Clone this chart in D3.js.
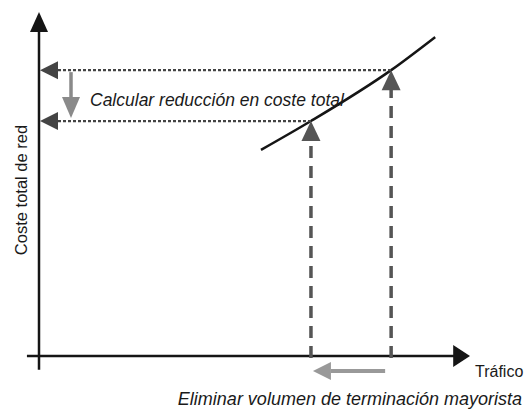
<!DOCTYPE html>
<html>
<head>
<meta charset="utf-8">
<script src="https://cdn.jsdelivr.net/npm/d3@7"></script>
<style>
  html, body { margin: 0; padding: 0; background: #fff; }
  svg { display: block; }
  text { font-family: "Liberation Sans", Arial, Helvetica, sans-serif; fill: #1a1a1a; }
</style>
</head>
<body>
<div id="chart"></div>
<script>
// ---- data (conceptual diagram, values in arbitrary units 0..100) ----
const costCurveTraffic = [51.5, 63.1, 81.7, 91.9];
const costCurveCost    = [59.9, 68.3, 83.1, 92.7];
const trafficLevels = [63.1, 81.7];   // without / with wholesale termination volume
const costLevels    = [68.3, 83.1];   // total network cost at those traffic levels
const xAxisTitle = "Tráfico";
const yAxisTitle = "Coste total de red";
const costNote = "Calcular reducción en coste total";
const trafficNote = "Eliminar volumen de terminación mayorista";

// ---- layout ----
const W = 526, H = 409;
const svg = d3.select("#chart").append("svg").attr("width", W).attr("height", H);

const x = d3.scaleLinear().domain([0, 100]).range([39, 470]);
const y = d3.scaleLinear().domain([0, 100]).range([356, 12]);

const AX = "#151515";
const DOT = "#444";
const DARK = "#555";
const LIGHT = "#999";

function tri(g, pts, fill) {
  g.append("path").attr("d", "M" + pts.map(p => p.join(",")).join("L") + "Z").attr("fill", fill);
}

// Y axis
svg.append("line").attr("x1", x(0)).attr("x2", x(0))
  .attr("y1", y(-4)).attr("y2", y(94.5))
  .attr("stroke", AX).attr("stroke-width", 2.5);
tri(svg, [[x(0), y(100)], [x(0) - 9, y(94.2)], [x(0) + 9, y(94.2)]], AX);

// X axis
svg.append("line").attr("x1", x(-2.8)).attr("x2", x(96.5))
  .attr("y1", y(0)).attr("y2", y(0))
  .attr("stroke", AX).attr("stroke-width", 2.5);
tri(svg, [[x(100), y(0)], [x(96.1), y(0) - 11], [x(96.1), y(0) + 11]], AX);

// Cost curve
const curvePts = costCurveTraffic.map((t, i) => [t, costCurveCost[i]]);
svg.append("path")
  .attr("d", d3.line().x(d => x(d[0])).y(d => y(d[1])).curve(d3.curveMonotoneX)(curvePts))
  .attr("fill", "none").attr("stroke", AX).attr("stroke-width", 2.5);

// Dotted horizontal reference lines with left arrowheads
costLevels.forEach((c, i) => {
  const yy = y(c);
  svg.append("line").attr("x1", x(0) + 19).attr("x2", x(trafficLevels[i]))
    .attr("y1", yy).attr("y2", yy)
    .attr("stroke", DOT).attr("stroke-width", 2.2).attr("stroke-dasharray", "3,2");
  tri(svg, [[x(0) + 1, yy], [x(0) + 19, yy - 9], [x(0) + 19, yy + 9]], DOT);
});

// Dashed vertical reference lines with up arrowheads
trafficLevels.forEach((t, i) => {
  const xx = x(t), tip = y(costLevels[i]);
  svg.append("line").attr("x1", xx).attr("x2", xx)
    .attr("y1", y(0) + 2).attr("y2", tip + 19)
    .attr("stroke", DARK).attr("stroke-width", 3.5).attr("stroke-dasharray", "12,8");
  tri(svg, [[xx, tip], [xx - 9.5, tip + 20], [xx + 9.5, tip + 20]], DARK);
});

// Grey arrow: reduction in cost (down)
const ax = x(0) + 32;
const yTop = y(costLevels[1]) + 2, yBot = y(costLevels[0]) - 3;
svg.append("line").attr("x1", ax).attr("x2", ax).attr("y1", yTop).attr("y2", yBot - 20)
  .attr("stroke", "#8a8a8a").attr("stroke-width", 3.5);
tri(svg, [[ax, yBot], [ax - 9, yBot - 21], [ax + 9, yBot - 21]], "#8a8a8a");

// Grey arrow: removal of traffic (left)
const gy = y(0) + 15;
const gx1 = x(trafficLevels[1]) - 6, gx2 = x(trafficLevels[0]) + 2;
svg.append("line").attr("x1", gx1).attr("x2", gx2 + 18).attr("y1", gy).attr("y2", gy)
  .attr("stroke", LIGHT).attr("stroke-width", 4);
tri(svg, [[gx2, gy], [gx2 + 18, gy - 9], [gx2 + 18, gy + 9]], LIGHT);

// Texts
svg.append("text").attr("x", 90).attr("y", 106)
  .attr("font-size", 17.5).attr("font-style", "italic").text(costNote);
svg.append("text").attr("x", 522).attr("y", 405).attr("text-anchor", "end")
  .attr("font-size", 18).attr("font-style", "italic").text(trafficNote);
svg.append("text").attr("x", 475).attr("y", 377)
  .attr("font-size", 16).text(xAxisTitle);
svg.append("text").attr("transform", "translate(27,190) rotate(-90)")
  .attr("text-anchor", "middle").attr("font-size", 16.5).text(yAxisTitle);
</script>
</body>
</html>
